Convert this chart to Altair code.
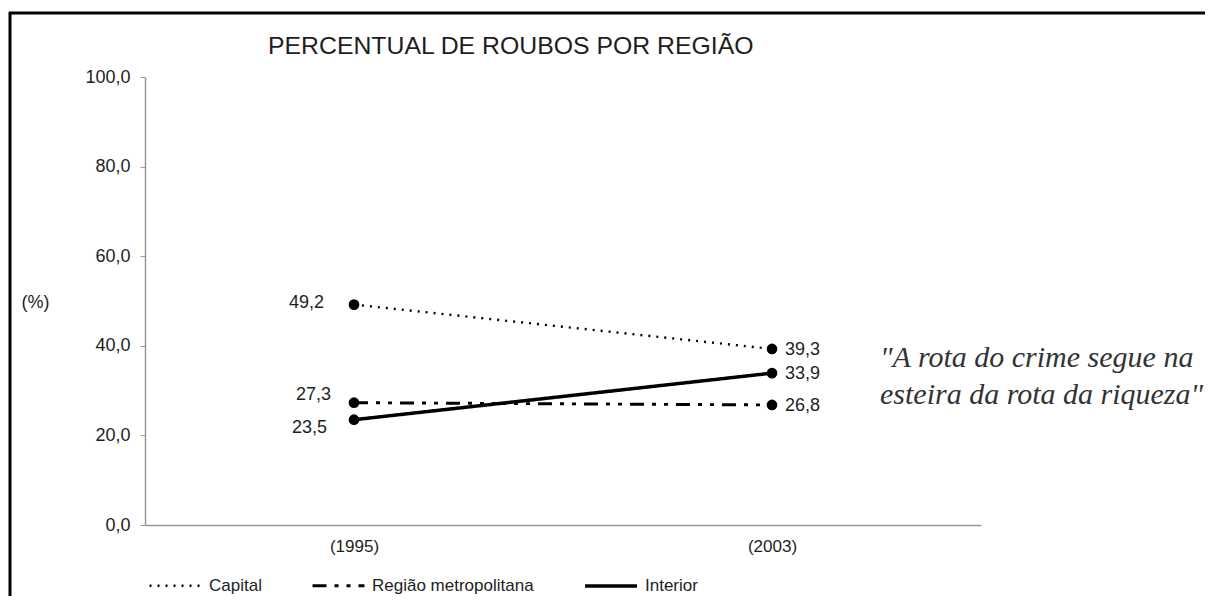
import altair as alt
import pandas as pd

# ---- data ----
anos = ["(1995)", "(2003)"]
series = ["Capital", "Região metropolitana", "Interior"]
capital = [49.2, 39.3]
metropolitana = [27.3, 26.8]
interior = [23.5, 33.9]
y_ticks = [0, 20, 40, 60, 80, 100]
titulo = "PERCENTUAL DE ROUBOS POR REGIÃO"
citacao = "\"A rota do crime segue na\nesteira da rota da riqueza\""

rows = []
for nome, vals in zip(series, [capital, metropolitana, interior]):
    for ano, v in zip(anos, vals):
        rows.append({"ano": ano, "serie": nome, "valor": v})
df = pd.DataFrame(rows)

FONT = "Liberation Sans"
INK = "#1e1e1e"
AXIS_GRAY = "#9a9a9a"

base = alt.Chart(df).transform_calculate(
    rotulo="replace(format(datum.valor, '.1f'), '.', ',')"
)

x_enc = alt.X(
    "ano:N",
    sort=anos,
    scale=alt.Scale(type="point", padding=0.5),
    axis=alt.Axis(
        title=None, labelAngle=0, ticks=False, domainColor=AXIS_GRAY,
        domainWidth=1.5, labelPadding=13, labelFontSize=17, labelColor=INK,
        labelFont=FONT,
    ),
)
y_enc = alt.Y(
    "valor:Q",
    scale=alt.Scale(domain=[0, 100], nice=False, zero=True),
    axis=alt.Axis(
        values=y_ticks, grid=False, tickSize=5, tickColor=AXIS_GRAY,
        domainColor=AXIS_GRAY, domainWidth=1.5, labelPadding=10,
        labelFontSize=18, labelColor=INK, labelFont=FONT,
        labelExpr="replace(format(datum.value, '.1f'), '.', ',')",
        title="(%)", titleAngle=0, titleX=-110, titleY=225,
        titleAlign="center", titleBaseline="middle", titleFontSize=18,
        titleFontWeight="normal", titleColor=INK, titleFont=FONT,
    ),
)

leg = alt.Legend(
    title=None, orient="none", legendX=3, legendY=481, direction="horizontal",
    symbolType="stroke", symbolSize=2700, symbolStrokeColor="black",
    labelFontSize=17, labelFont=FONT, labelColor=INK, labelOffset=6,
    labelLimit=0, columnPadding=44,
)

lines = base.mark_line(color="black").encode(
    x=x_enc,
    y=y_enc,
    detail="serie:N",
    strokeDash=alt.StrokeDash(
        "serie:N",
        scale=alt.Scale(domain=series, range=[[2, 6], [14, 8, 4, 8, 4, 8], [1, 0]]),
        legend=leg,
        sort=series,
    ),
    strokeWidth=alt.StrokeWidth(
        "serie:N",
        scale=alt.Scale(domain=series, range=[2.4, 3.5, 3.5]),
        legend=leg,
        sort=series,
    ),
)

points = base.mark_point(filled=True, shape="circle", size=115, color="black", opacity=1).encode(
    x=x_enc, y=y_enc
)

lbl = dict(font=FONT, fontSize=18, color=INK, baseline="middle")
left_mid = base.transform_filter(
    (alt.datum.ano == anos[0]) & (alt.datum.serie == series[0])
).mark_text(align="right", dx=-30, dy=-2, **lbl).encode(x=x_enc, y=y_enc, text="rotulo:N")
left_up = base.transform_filter(
    (alt.datum.ano == anos[0]) & (alt.datum.serie == series[1])
).mark_text(align="right", dx=-23, dy=-8, **lbl).encode(x=x_enc, y=y_enc, text="rotulo:N")
left_down = base.transform_filter(
    (alt.datum.ano == anos[0]) & (alt.datum.serie == series[2])
).mark_text(align="right", dx=-27, dy=8, **lbl).encode(x=x_enc, y=y_enc, text="rotulo:N")
right = base.transform_filter(alt.datum.ano == anos[1]).mark_text(
    align="left", dx=13, dy=1, **lbl
).encode(x=x_enc, y=y_enc, text="rotulo:N")

one = pd.DataFrame({"k": [0]})
quote = alt.Chart(one).mark_text(
    font="Liberation Serif", fontStyle="italic", fontSize=30, align="left",
    baseline="middle", lineBreak="\n", lineHeight=37, color="#333333",
).encode(x=alt.value(735), y=alt.value(281), text=alt.value(citacao))

title_mark = alt.Chart(one).mark_text(
    font=FONT, fontSize=24.8, align="left", baseline="middle", color=INK,
).encode(x=alt.value(123), y=alt.value(-30), text=alt.value(titulo))

frame_top = alt.Chart(one).mark_rule(color="black", strokeWidth=3).encode(
    x=alt.value(-136), x2=alt.value(1070), y=alt.value(-64)
)
frame_left = alt.Chart(one).mark_rule(color="black", strokeWidth=3).encode(
    x=alt.value(-135), y=alt.value(-65), y2=alt.value(530)
)

chart = alt.layer(
    frame_top, frame_left, title_mark, lines, points,
    left_mid, left_up, left_down, right, quote
).properties(
    width=836,
    height=448,
    autosize=alt.AutoSizeParams(type="none"),
    padding={"left": 137, "top": 69, "right": 224, "bottom": 71},
).configure_view(stroke=None)

chart.save("out.html", embed_options={"renderer": "svg", "actions": False})
